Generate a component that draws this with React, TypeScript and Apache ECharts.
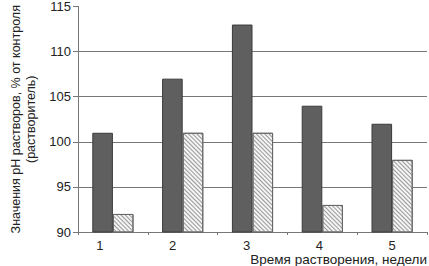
import React, { useEffect, useRef } from "react";
import * as echarts from "echarts";

const categories = ["1", "2", "3", "4", "5"];
const seriesDark = [101, 107, 113, 104, 102];
const seriesHatched = [92, 101, 101, 93, 98];
const yTicks = { min: 90, max: 115, interval: 5 };
const yName = "Значения pH растворов, % от контроля\n(растворитель)";
const xName = "Время растворения, недели";
const labelShift = [26, 20, 12, 6, 0];

export default function App() {
  const ref = useRef<HTMLDivElement>(null);
  useEffect(() => {
    if (!ref.current) return;
    const chart = echarts.init(ref.current, undefined, { renderer: "svg" });
    const font = "Liberation Sans, Arial, sans-serif";
    const rich: Record<string, any> = { v: { fontSize: 13, color: "#222", fontFamily: font, lineHeight: 13 } };
    labelShift.forEach((s, i) => {
      rich["p" + i] = { width: s, fontSize: 13, fontFamily: font, lineHeight: 13 };
    });
    chart.setOption({
      animation: false,
      grid: { left: 63, right: 2, top: 6, bottom: 34, containLabel: false },
      xAxis: {
        type: "category",
        data: categories,
        axisLine: { lineStyle: { color: "#777", width: 1 } },
        axisTick: { show: true, length: 3, lineStyle: { color: "#777" } },
        axisLabel: {
          margin: 7,
          formatter: (v: string) => {
            const i = categories.indexOf(v);
            return labelShift[i] > 0 ? `{v|${v}}{p${i}| }` : `{v|${v}}`;
          },
          rich,
        },
      },
      yAxis: {
        type: "value",
        min: yTicks.min,
        max: yTicks.max,
        interval: yTicks.interval,
        name: yName,
        nameLocation: "middle",
        nameRotate: 90,
        nameGap: 40,
        nameTextStyle: { fontSize: 12.5, color: "#222", fontFamily: font, lineHeight: 15 },
        axisLine: { show: true, lineStyle: { color: "#777", width: 1 } },
        axisTick: { show: true, length: 5, lineStyle: { color: "#777" } },
        axisLabel: { fontSize: 13, color: "#222", margin: 7, fontFamily: font },
        splitLine: { show: true, showMaxLine: false, showMinLine: false, lineStyle: { color: "#777", width: 1 } },
      },
      graphic: [
        {
          type: "text",
          right: 2,
          top: 252,
          style: { text: xName, fontSize: 13.5, fill: "#222", fontFamily: font },
        },
      ],
      series: [
        {
          type: "bar",
          data: seriesDark,
          barGap: "0%",
          barCategoryGap: "41%",
          itemStyle: { color: "#5f5f5f", borderColor: "#3a3a3a", borderWidth: 1 },
        },
        {
          type: "bar",
          data: seriesHatched,
          itemStyle: {
            color: "#f4f4f4",
            borderColor: "#666",
            borderWidth: 1,
            decal: {
              symbol: "rect",
              symbolSize: 1,
              color: "#999",
              dashArrayX: [1, 0],
              dashArrayY: [1, 2],
              rotation: Math.PI / 4,
            },
          },
        },
      ],
    });
    return () => chart.dispose();
  }, []);
  return <div ref={ref} style={{ width: 429, height: 266, position: "absolute", left: 0, top: 0 }} />;
}
